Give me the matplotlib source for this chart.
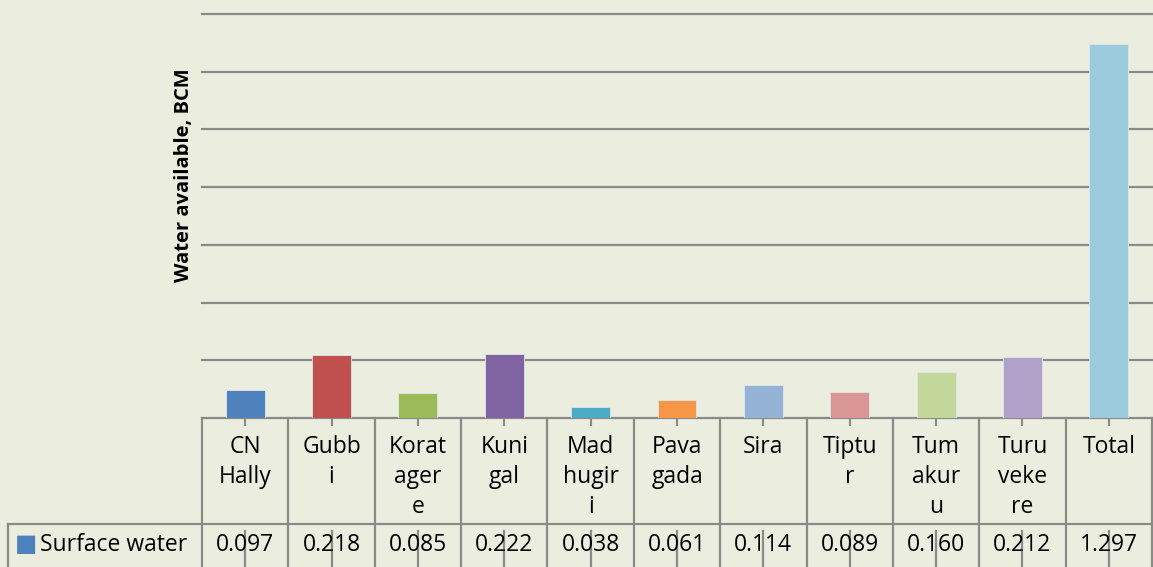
import numpy as np
import matplotlib.pyplot as plt
from matplotlib.transforms import blended_transform_factory

# Datos: agua superficial disponible por taluk (BCM)
categorias = ["CN\nHally", "Gubb\ni", "Korat\nager\ne", "Kuni\ngal", "Mad\nhugir\ni",
              "Pava\ngada", "Sira", "Tiptu\nr", "Tum\nakur\nu", "Turu\nveke\nre", "Total"]
agua_superficial = [0.097, 0.218, 0.085, 0.222, 0.038, 0.061, 0.114, 0.089, 0.160, 0.212, 1.297]
etiquetas_valor = ["0.097", "0.218", "0.085", "0.222", "0.038", "0.061",
                   "0.114", "0.089", "0.160", "0.212", "1.297"]
serie = "Surface water"
colores = ["#4F81BD", "#C0504D", "#9BBB59", "#8064A2", "#4BACC6", "#F79646",
           "#95B3D7", "#DA9694", "#C4D79B", "#B1A0C7", "#9BCBDD"]

fondo = "#EBEEDE"
gris = "#8A8A8A"
fuente = ["Open Sans", "DejaVu Sans"]

W, H = 1153, 567
fig = plt.figure(figsize=(W / 100, H / 100), dpi=100, facecolor=fondo)
# area del grafico en pixeles: x 202..1152, y 14..418
ax = fig.add_axes([202 / W, (H - 418) / H, 950 / W, 404 / H])
ax.set_facecolor(fondo)

x = np.arange(len(categorias))
ax.bar(x, agua_superficial, width=0.45, color=colores, edgecolor="#DDE6EE",
       linewidth=0.6, zorder=3)

ax.set_xlim(-0.5, len(categorias) - 0.5)
ax.set_ylim(0, 1.4)
for v in np.arange(0, 1.41, 0.2):
    ax.axhline(v, color=gris, lw=1.6, zorder=1, clip_on=False)

for s in ax.spines.values():
    s.set_visible(False)
ax.set_xticks(x)
ax.set_yticks([])
ax.tick_params(axis="x", direction="inout", length=12, width=1.5, color=gris,
               labelbottom=False)

ax.set_ylabel("Water available, BCM", fontsize=14.5, fontweight="bold",
              family=fuente)
ax.yaxis.set_label_coords(-0.008, 0.6)

# Tabla de datos debajo del eje
tr = blended_transform_factory(ax.transData, ax.transAxes)
py = lambda p: (418 - p) / 404  # pixel y -> fraccion de ejes
y_cab = py(524)
y_fin = py(580)
x_izq = -0.5 - 194 / 86.4

kw = dict(color=gris, lw=1.6, transform=tr, clip_on=False)
bordes = np.arange(len(categorias) + 1) - 0.5
for b in bordes:
    ax.plot([b, b], [0, y_fin], **kw)
ax.plot([x_izq, x_izq], [y_cab, y_fin], **kw)
ax.plot([x_izq, bordes[-1]], [y_cab, y_cab], **kw)
for xi in x:
    ax.plot([xi, xi], [py(531), y_fin], **kw)

for xi, cat, val in zip(x, categorias, etiquetas_valor):
    ax.text(xi, py(435), cat, transform=tr, ha="center", va="top", fontsize=16.5,
            family=fuente, linespacing=1.33, color="black")
    ax.text(xi, py(545), val, transform=tr, ha="center", va="center", fontsize=16.5,
            family=fuente, color="black")

ax.text(x_izq + 0.08, py(544), "\u25A0", transform=tr, ha="left", va="center",
        fontsize=17, color=colores[0], family="DejaVu Sans")
ax.text(x_izq + 0.37, py(545), serie, transform=tr, ha="left", va="center",
        fontsize=16.5, family=fuente, color="black")

fig.savefig("out.png", dpi=100, facecolor=fondo)
